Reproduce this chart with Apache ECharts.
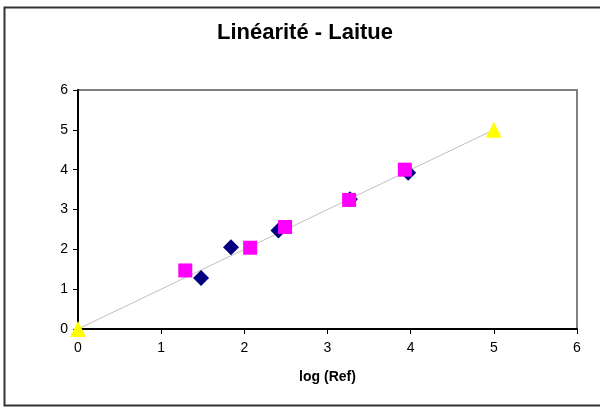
<!DOCTYPE html>
<html><head><meta charset="utf-8">
<script src="https://cdn.jsdelivr.net/npm/echarts@6/dist/echarts.min.js"></script>
<style>html,body{margin:0;padding:0;background:#fff}#c{width:600px;height:408px}</style>
</head><body><div id="c"></div>
<script>
const titleText = "Linéarité - Laitue";
const xAxisName = "log (Ref)";
const diamondData = [[1.48, 1.28], [1.84, 2.05], [2.41, 2.47], [3.27, 3.26], [3.97, 3.92]];
const squareData = [[1.29, 1.47], [2.07, 2.04], [2.49, 2.56], [3.26, 3.24], [3.93, 4.00]];
const triangleData = [[0, 0], [5, 5]];
const axisMin = 0, axisMax = 6, axisStep = 1;

const chart = echarts.init(document.getElementById('c'));
const font = 'Liberation Sans, Arial, sans-serif';
chart.setOption({
  animation: false,
  backgroundColor: '#fff',
  title: { text: titleText, left: 300, top: 17, textAlign: 'center',
    textStyle: { fontFamily: font, fontSize: 22, fontWeight: 'bold', color: '#000' } },
  graphic: [{ type: 'rect', shape: { x: 4.5, y: 7.5, width: 600, height: 398 },
    style: { fill: 'none', stroke: '#333', lineWidth: 2 }, z: 100 }],
  grid: { left: 78, top: 90, width: 499, height: 239, show: true,
    borderColor: '#808080', borderWidth: 2, backgroundColor: '#fff' },
  xAxis: { type: 'value', min: axisMin, max: axisMax, interval: axisStep,
    name: xAxisName, nameLocation: 'middle', nameGap: 41,
    nameTextStyle: { fontFamily: font, fontSize: 14, fontWeight: 'bold', color: '#000' },
    axisLine: { show: true, onZero: false, lineStyle: { color: '#000', width: 2 } },
    axisTick: { show: true, length: 5, lineStyle: { color: '#000' } },
    axisLabel: { fontFamily: font, fontSize: 14, color: '#000', margin: 12 },
    splitLine: { show: false } },
  yAxis: { type: 'value', min: axisMin, max: axisMax, interval: axisStep,
    axisLine: { show: true, onZero: false, lineStyle: { color: '#000', width: 2 } },
    axisTick: { show: true, length: 5, lineStyle: { color: '#000' } },
    axisLabel: { fontFamily: font, fontSize: 14, color: '#000', margin: 10 },
    splitLine: { show: false } },
  series: [
    { type: 'line', data: triangleData, symbol: 'triangle', symbolSize: 16,
      itemStyle: { color: '#FFFF00', opacity: 1 }, lineStyle: { color: '#C0C0C0', width: 1 },
      clip: false, z: 2 },
    { type: 'scatter', data: diamondData, symbol: 'diamond', symbolSize: 16,
      itemStyle: { color: '#000080', opacity: 1 }, clip: false, z: 3 },
    { type: 'scatter', data: squareData, symbol: 'rect', symbolSize: 14,
      itemStyle: { color: '#FF00FF', opacity: 1 }, clip: false, z: 4 }
  ]
});
</script></body></html>
